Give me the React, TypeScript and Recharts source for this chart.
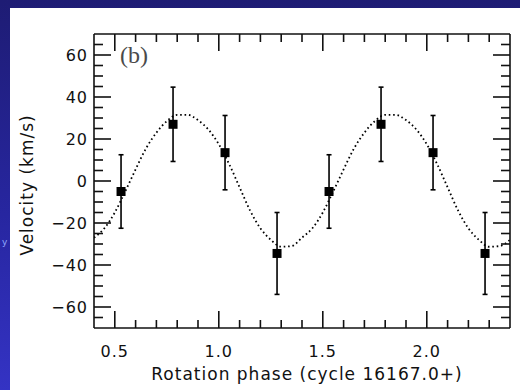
import React from 'react';
import { ComposedChart, Line, Scatter, XAxis, YAxis, ErrorBar } from 'recharts';

const phases = [0.53, 0.78, 1.03, 1.28, 1.53, 1.78, 2.03, 2.28];
const velocities = [-5, 27, 13.5, -34.5, -5, 27, 13.5, -34.5];
const errors = [17.5, 17.7, 17.7, 19.5, 17.5, 17.7, 17.7, 19.5];

const curvePhases = [
  0.4, 0.45, 0.5, 0.55, 0.6, 0.65, 0.7, 0.75, 0.8, 0.85, 0.9, 0.95, 1.0, 1.05, 1.1, 1.15, 1.2, 1.25, 1.3, 1.35,
  1.4, 1.45, 1.5, 1.55, 1.6, 1.65, 1.7, 1.75, 1.8, 1.85, 1.9, 1.95, 2.0, 2.05, 2.1, 2.15, 2.2, 2.25, 2.3, 2.35, 2.4,
];
const curveVelocities = [
  -27, -22.5, -15, -5, 5.5, 15.5, 23, 28.5, 31.5, 31.5, 29, 24.5, 17.5, 8, -3, -14, -22.5, -28, -31.3, -31,
  -27, -22.5, -15, -5, 5.5, 15.5, 23, 28.5, 31.5, 31.5, 29, 24.5, 17.5, 8, -3, -14, -22.5, -28, -31.3, -31, -28,
];

const xTicks = [0.5, 0.6, 0.7, 0.8, 0.9, 1.0, 1.1, 1.2, 1.3, 1.4, 1.5, 1.6, 1.7, 1.8, 1.9, 2.0, 2.1, 2.2, 2.3];
const yTicks = [-65, -60, -55, -50, -45, -40, -35, -30, -25, -20, -15, -10, -5, 0, 5, 10, 15, 20, 25, 30, 35, 40, 45, 50, 55, 60, 65];

const xTitle = 'Rotation phase (cycle 16167.0+)';
const yTitle = 'Velocity (km/s)';
const panelLabel = '(b)';
const edgeFragment = 'y';

const points = phases.map((p, i) => ({ x: p, v: velocities[i], err: errors[i] }));
const curve = curvePhases.map((p, i) => ({ x: p, v: curveVelocities[i] }));

const INK = '#111';
const TICK_W = 1.6;
const labelStyle = { fontFamily: '"DejaVu Sans", sans-serif', fontSize: 16, fill: INK, letterSpacing: 1 } as const;

const isMajorX = (v: number) => Math.abs(v * 2 - Math.round(v * 2)) < 1e-6;
const isMajorY = (v: number) => Math.abs(v % 20) < 1e-6;
const fmtY = (v: number) => (v < 0 ? '\u2212' + Math.abs(v) : String(v));

const BottomTick = (props: any) => {
  const { x, y, payload } = props;
  const v = payload.value as number;
  const major = isMajorX(v);
  return (
    <g>
      <line x1={x} y1={y} x2={x} y2={y - (major ? 17 : 8)} stroke={INK} strokeWidth={TICK_W} />
      {major && (
        <text x={x} y={y + 29} textAnchor="middle" style={labelStyle}>
          {v.toFixed(1)}
        </text>
      )}
    </g>
  );
};

const TopTick = (props: any) => {
  const { x, y, payload } = props;
  const v = payload.value as number;
  const major = isMajorX(v);
  return <line x1={x} y1={y} x2={x} y2={y + (major ? 17 : 8)} stroke={INK} strokeWidth={TICK_W} />;
};

const LeftTick = (props: any) => {
  const { x, y, payload } = props;
  const v = payload.value as number;
  const major = isMajorY(v);
  return (
    <g>
      <line x1={x} y1={y} x2={x + (major ? 17 : 9)} y2={y} stroke={INK} strokeWidth={TICK_W} />
      {major && (
        <text x={x - 6} y={y + 6} textAnchor="end" style={labelStyle}>
          {fmtY(v)}
        </text>
      )}
    </g>
  );
};

const RightTick = (props: any) => {
  const { x, y, payload } = props;
  const v = payload.value as number;
  const major = isMajorY(v);
  return <line x1={x} y1={y} x2={x - (major ? 17 : 9)} y2={y} stroke={INK} strokeWidth={TICK_W} />;
};

const SquareShape = (props: any) => {
  const { cx, cy } = props;
  return <rect x={cx - 4.5} y={cy - 4.5} width={9} height={9} fill="#000" />;
};

export default function App() {
  return (
    <div style={{ position: 'absolute', left: 0, top: 0, width: 520, height: 390, overflow: 'hidden', background: 'linear-gradient(180deg, #1e1c74 0%, #2726a0 55%, #3433c4 100%)' }}>
      <div style={{ position: 'absolute', left: 10, top: 8, width: 510, height: 382, background: '#fff' }} />
      <div style={{ position: 'absolute', left: 2, top: 236, color: '#8fa8ff', fontFamily: '"DejaVu Sans", sans-serif', fontSize: 9, lineHeight: '12px' }}>{edgeFragment}</div>
      <div style={{ position: 'absolute', left: 0, top: 0 }}>
        <ComposedChart width={520} height={390} margin={{ top: 24, right: 0, bottom: 32, left: 64 }}>
          <XAxis
            xAxisId="b"
            dataKey="x"
            type="number"
            domain={[0.4, 2.4]}
            allowDataOverflow
            ticks={xTicks}
            interval={0}
            orientation="bottom"
            height={30}
            tickSize={0}
            tickMargin={0}
            tick={<BottomTick />}
            axisLine={{ stroke: INK, strokeWidth: 1.6 }}
            tickLine={false}
          />
          <XAxis
            xAxisId="t"
            dataKey="x"
            type="number"
            domain={[0.4, 2.4]}
            allowDataOverflow
            ticks={xTicks}
            interval={0}
            orientation="top"
            height={10}
            tickSize={0}
            tickMargin={0}
            tick={<TopTick />}
            axisLine={{ stroke: INK, strokeWidth: 1.6 }}
            tickLine={false}
          />
          <YAxis
            yAxisId="l"
            type="number"
            domain={[-70, 70]}
            allowDataOverflow
            ticks={yTicks}
            interval={0}
            orientation="left"
            width={30}
            tickSize={0}
            tickMargin={0}
            tick={<LeftTick />}
            axisLine={{ stroke: INK, strokeWidth: 1.6 }}
            tickLine={false}
          />
          <YAxis
            yAxisId="r"
            type="number"
            domain={[-70, 70]}
            allowDataOverflow
            ticks={yTicks}
            interval={0}
            orientation="right"
            width={10}
            tickSize={0}
            tickMargin={0}
            tick={<RightTick />}
            axisLine={{ stroke: INK, strokeWidth: 1.6 }}
            tickLine={false}
          />
          <Line
            xAxisId="b"
            yAxisId="l"
            data={curve}
            dataKey="v"
            type="monotone"
            stroke="#000"
            strokeWidth={1.8}
            strokeDasharray="1.6 2.8"
            dot={false}
            activeDot={false}
            isAnimationActive={false}
          />
          <Scatter xAxisId="b" yAxisId="l" data={points} dataKey="v" shape={<SquareShape />} isAnimationActive={false}>
            <ErrorBar dataKey="err" direction="y" width={2.5} stroke="#000" strokeWidth={1.6} />
          </Scatter>
        </ComposedChart>
      </div>
      <div style={{ position: 'absolute', left: 120, top: 42, fontFamily: '"Liberation Serif", serif', fontSize: 24, color: '#4a4a4a', lineHeight: '26px' }}>
        {panelLabel}
      </div>
      <div style={{ position: 'absolute', left: 0, top: 363, width: 520, paddingLeft: 94, boxSizing: 'border-box', display: 'flex', justifyContent: 'center' }}>
        <div style={{ width: 416, textAlign: 'center', fontFamily: '"DejaVu Sans", sans-serif', fontSize: 17, letterSpacing: 1, color: INK, lineHeight: '22px', whiteSpace: 'nowrap' }}>
          {xTitle}
        </div>
      </div>
      <div style={{ position: 'absolute', left: 27, top: 185, width: 0, height: 0 }}>
        <div style={{ position: 'absolute', left: 0, top: 0, transform: 'translate(-50%, -50%) rotate(-90deg)', fontFamily: '"DejaVu Sans", sans-serif', fontSize: 17, letterSpacing: 1, color: INK, lineHeight: '22px', whiteSpace: 'nowrap' }}>
          {yTitle}
        </div>
      </div>
    </div>
  );
}
